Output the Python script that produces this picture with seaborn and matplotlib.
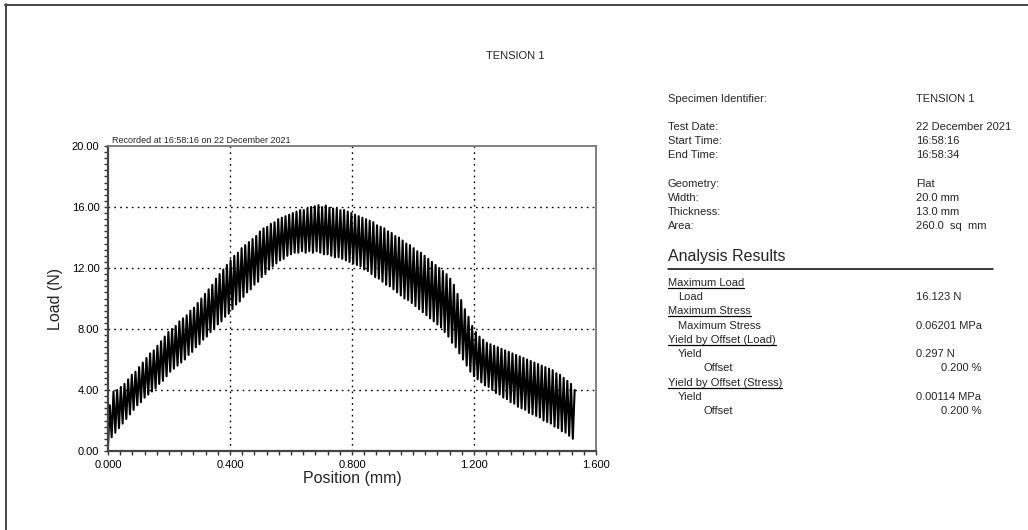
import numpy as np
import pandas as pd
import matplotlib
matplotlib.use("Agg")
import matplotlib.pyplot as plt
from matplotlib.lines import Line2D
from matplotlib.ticker import MultipleLocator, FormatStrFormatter
import seaborn as sns

# ---- test record -------------------------------------------------------
# Load at each cycle peak and trough (N), in order of crosshead travel
peak_load = [
    3.0, 3.9, 4.0, 4.2, 4.4, 4.7, 5.0, 5.2, 5.5, 5.8,
    6.1, 6.4, 6.6, 6.9, 7.2, 7.5, 7.8, 8.0, 8.2, 8.5,
    8.7, 8.9, 9.2, 9.4, 9.7, 10.0, 10.3, 10.6, 10.9, 11.3,
    11.6, 11.9, 12.2, 12.5, 12.8, 13.0, 13.3, 13.5, 13.7, 13.9,
    14.1, 14.4, 14.6, 14.7, 14.9, 15.0, 15.2, 15.3, 15.4, 15.5,
    15.6, 15.7, 15.8, 15.8, 15.9, 16.0, 16.05, 16.123, 16.0, 16.1,
    15.95, 15.9, 15.9, 15.8, 15.8, 15.7, 15.6, 15.5, 15.4, 15.3,
    15.2, 15.1, 15.0, 14.8, 14.7, 14.6, 14.4, 14.3, 14.1, 14.0,
    13.8, 13.6, 13.5, 13.3, 13.1, 13.0, 12.8, 12.6, 12.4, 12.2,
    12.0, 11.8, 11.6, 11.3, 10.9, 10.3, 9.9, 9.3, 8.8, 8.2,
    7.8, 7.5, 7.3, 7.1, 7.0, 6.9, 6.8, 6.7, 6.6, 6.5,
    6.4, 6.3, 6.2, 6.1, 6.0, 5.9, 5.8, 5.7, 5.6, 5.5,
    5.4, 5.3, 5.1, 5.0, 4.8, 4.6, 4.4, 4.0,
]
trough_load = [
    0.3, 0.9, 1.2, 1.5, 1.8, 2.1, 2.4, 2.7, 3.0, 3.2,
    3.5, 3.7, 3.9, 4.1, 4.4, 4.6, 4.9, 5.2, 5.4, 5.6,
    5.8, 6.0, 6.3, 6.5, 6.8, 7.0, 7.3, 7.5, 7.8, 8.0,
    8.3, 8.5, 8.8, 9.0, 9.3, 9.6, 9.8, 10.1, 10.4, 10.6,
    10.9, 11.1, 11.4, 11.6, 11.9, 12.1, 12.3, 12.5, 12.6, 12.8,
    12.9, 13.0, 13.0, 13.1, 13.0, 13.1, 13.0, 13.1, 13.0, 12.9,
    12.9, 12.8, 12.7, 12.7, 12.6, 12.5, 12.4, 12.3, 12.2, 12.1,
    11.9, 11.8, 11.6, 11.4, 11.3, 11.1, 10.9, 10.8, 10.6, 10.4,
    10.2, 10.0, 9.9, 9.7, 9.5, 9.3, 9.1, 8.9, 8.7, 8.5,
    8.3, 8.1, 7.8, 7.5, 7.1, 6.8, 6.4, 6.0, 5.6, 5.2,
    4.9, 4.7, 4.5, 4.3, 4.2, 4.0, 3.8, 3.7, 3.5, 3.4,
    3.2, 3.1, 2.9, 2.8, 2.7, 2.5, 2.4, 2.3, 2.2, 2.0,
    1.9, 1.8, 1.6, 1.5, 1.3, 1.2, 1.0, 0.8,
]
start_position = 0.0    # mm
end_position = 1.53     # mm

x_ticks = [0.0, 0.4, 0.8, 1.2, 1.6]
y_ticks = [0.0, 4.0, 8.0, 12.0, 16.0, 20.0]

specimen_rows = [
    ("Specimen Identifier:", "TENSION 1", 99),
    ("Test Date:", "22 December 2021", 127),
    ("Start Time:", "16:58:16", 141),
    ("End Time:", "16:58:34", 155),
    ("Geometry:", "Flat", 184),
    ("Width:", "20.0 mm", 198),
    ("Thickness:", "13.0 mm", 212),
    ("Area:", "260.0  sq  mm", 226),
]
# (label, value, row y, indent level, underlined header, value right-aligned)
result_rows = [
    ("Maximum Load", "", 283, 0, True, False),
    ("Load", "16.123 N", 297, 1, False, False),
    ("Maximum Stress", "", 311, 0, True, False),
    ("Maximum Stress", "0.06201 MPa", 326, 1, False, False),
    ("Yield by Offset (Load)", "", 340, 0, True, False),
    ("Yield", "0.297 N", 354, 1, False, False),
    ("Offset", "0.200 %", 368, 2, False, True),
    ("Yield by Offset (Stress)", "", 383, 0, True, False),
    ("Yield", "0.00114 MPa", 397, 1, False, False),
    ("Offset", "0.200 %", 411, 2, False, True),
]

# ---- build the zig-zag trace: trough, peak, trough, peak ... ----------
load = []
for lo, hi in zip(trough_load, peak_load):
    load.extend([lo, hi])
position = np.linspace(start_position, end_position, len(load))
df = pd.DataFrame({"Position (mm)": position, "Load (N)": load})

# ---- styling -----------------------------------------------------------
sns.set_theme(style="white")
plt.rcParams["font.family"] = ["Liberation Sans", "DejaVu Sans"]

W, H = 1028, 530
fig = plt.figure(figsize=(W / 100, H / 100), dpi=100)
fig.patch.set_facecolor("white")


def fx(px):
    return px / W


def fy(py):
    return 1 - py / H


ax = fig.add_axes([fx(108), fy(451), fx(596) - fx(108), fy(146) - fy(451)])
ax.set_facecolor("white")

sns.lineplot(data=df, x="Position (mm)", y="Load (N)", ax=ax, sort=False,
             estimator=None, color="black", linewidth=1.5, antialiased=True)

ax.set_xlim(x_ticks[0], x_ticks[-1])
ax.set_ylim(y_ticks[0], y_ticks[-1])
ax.set_xticks(x_ticks)
ax.set_yticks(y_ticks)
ax.xaxis.set_major_formatter(FormatStrFormatter("%.3f"))
ax.yaxis.set_major_formatter(FormatStrFormatter("%.2f"))
ax.xaxis.set_minor_locator(MultipleLocator(0.04))
ax.yaxis.set_minor_locator(MultipleLocator(0.4))
ax.tick_params(axis="both", which="both", direction="out", colors="#333333",
               labelcolor="black", labelsize=8, bottom=True, left=True,
               top=False, right=False)
ax.tick_params(axis="both", which="major", length=3.2, width=1.0, pad=3)
ax.tick_params(axis="both", which="minor", length=2.6, width=1.0)

# dotted grid on the inner major ticks only
for xv in x_ticks[1:-1]:
    ax.axvline(xv, color="black", linestyle=(0, (1.2, 3.0)), linewidth=1.0, zorder=0)
for yv in y_ticks[1:-1]:
    ax.axhline(yv, color="black", linestyle=(0, (1.2, 3.0)), linewidth=1.0, zorder=0)

for side in ("left", "bottom"):
    ax.spines[side].set_color("#444444")
    ax.spines[side].set_linewidth(1.6)
for side in ("top", "right"):
    ax.spines[side].set_color("#777777")
    ax.spines[side].set_linewidth(1.3)

ax.set_xlabel("Position (mm)", fontsize=11.5, labelpad=1)
ax.set_ylabel("Load (N)", fontsize=11.5, labelpad=6)

ax.text(0.008, 1.004, "Recorded at 16:58:16 on 22 December 2021",
        transform=ax.transAxes, fontsize=6.5, ha="left", va="bottom")

# ---- page header -------------------------------------------------------
fig.text(fx(515), fy(56), "TENSION 1", fontsize=8, ha="center", va="center")

# ---- specimen information panel ---------------------------------------
for label, value, py in specimen_rows:
    fig.text(fx(668), fy(py), label, fontsize=8, ha="left", va="center")
    fig.text(fx(916), fy(py), value, fontsize=8, ha="left", va="center")

fig.text(fx(668), fy(257), "Analysis Results", fontsize=11.5, ha="left", va="center")
fig.add_artist(Line2D([fx(668), fx(993)], [fy(269), fy(269)], color="black",
                      linewidth=1.1, transform=fig.transFigure))

indent_px = {0: 668, 1: 678, 2: 703}
headers = []
for label, value, py, level, underline, right in result_rows:
    t = fig.text(fx(indent_px[level]), fy(py), label, fontsize=8,
                 ha="left", va="center")
    if underline:
        headers.append(t)
    if value:
        if right:
            fig.text(fx(982), fy(py), value, fontsize=8, ha="right", va="center")
        else:
            fig.text(fx(916), fy(py), value, fontsize=8, ha="left", va="center")

fig.canvas.draw()
renderer = fig.canvas.get_renderer()
for t in headers:
    bb = t.get_window_extent(renderer)
    yline = bb.y0 + 0.5
    fig.add_artist(Line2D([bb.x0 / W, bb.x1 / W], [yline / H, yline / H],
                          color="black", linewidth=0.9,
                          transform=fig.transFigure))

# ---- page frame (top and left edges) -----------------------------------
fig.add_artist(Line2D([fx(5), fx(W)], [fy(4.5), fy(4.5)], color="#444444",
                      linewidth=1.4, transform=fig.transFigure))
fig.add_artist(Line2D([fx(5.5), fx(5.5)], [fy(4), fy(H)], color="#444444",
                      linewidth=1.4, transform=fig.transFigure))

fig.savefig("out.png", dpi=100, facecolor="white")
